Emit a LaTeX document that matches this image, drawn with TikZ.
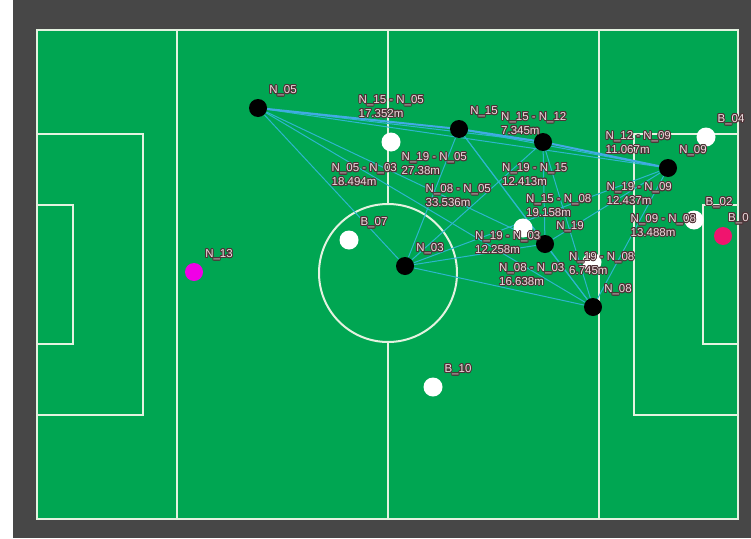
\documentclass[tikz,border=0pt]{standalone}
\usepackage{fontspec}
\setmainfont{Liberation Sans}
\usepackage[copies]{contour}
\contourlength{0.9pt}
\usetikzlibrary{calc}
\pgfdeclarelayer{back}
\pgfsetlayers{back,main}
\definecolor{bg}{HTML}{474747}
\definecolor{grass}{RGB}{0,166,82}
\definecolor{chalk}{RGB}{228,242,224}
\definecolor{edgec}{RGB}{45,182,205}
\definecolor{pathc}{RGB}{66,170,228}
\definecolor{labfill}{RGB}{236,220,222}
\definecolor{labline}{RGB}{80,50,55}
\definecolor{pinkb}{RGB}{240,20,110}
\definecolor{magn}{RGB}{240,0,230}
\newcommand\us{\textunderscore}
\newcommand\elab[5]{\node[lab] (#1) at ($(#2)!0.5!(#3)$) {\contour{labline}{#4}\\\contour{labline}{#5}};}
\newcommand\nlab[3]{\node[nlab] (#1) at ([shift={(25,-17)}]#2) {\contour{labline}{#3}};}
\tikzset{
  lab/.style={font=\fontsize{11.5}{14}\selectfont, text=labfill, inner sep=0pt, align=left, anchor=south west},
  nlab/.style={font=\fontsize{11.5}{13}\selectfont, text=labfill, inner sep=0pt},
  blk/.style={circle, fill=black, minimum size=18pt, inner sep=0pt},
  wht/.style={circle, fill=white, minimum size=19pt, inner sep=0pt},
  pnk/.style={circle, fill=pinkb, minimum size=18pt, inner sep=0pt},
  mag/.style={circle, fill=magn, minimum size=18pt, inner sep=0pt},
  fieldline/.style={draw=chalk, line width=2pt},
  edgeline/.style={draw=edgec, line width=1pt},
  pathline/.style={draw=pathc, line width=2pt}
}
\begin{document}
\begin{tikzpicture}[x=1pt,y=-1pt]
\useasboundingbox (0,0) rectangle (751,538);
% dots
\node[wht] (w1) at (391,142) {};
\node[wht] (w2) at (523,228) {};
\node[wht] (w3) at (592,262) {};
\node[wht] (b04) at (706,137) {};
\node[wht] (b02) at (694,220) {};
\node[pnk] (b0x) at (723,236) {};
\node[wht] (b07) at (349,240) {};
\node[wht] (b10) at (433,387) {};
\node[mag] (n13) at (194,272) {};
\node[blk] (n05) at (258,108) {};
\node[blk] (n15) at (459,129) {};
\node[blk] (n12) at (543,142) {};
\node[blk] (n09) at (668,168) {};
\node[blk] (n03) at (405,266) {};
\node[blk] (n19) at (545,244) {};
\node[blk] (n08) at (593,307) {};
\begin{pgfonlayer}{back}
\fill[white] (0,0) rectangle (751,538);
\fill[bg] (13,0) rectangle (751,538);
\path[fill=grass,fieldline] (37,30) rectangle (738,519);
\draw[fieldline] (177,30) -- (177,519);
\draw[fieldline] (599,30) -- (599,519);
\draw[fieldline] (388,30) -- (388,204);
\draw[fieldline] (388,342) -- (388,519);
\draw[fieldline] (388,273) circle[radius=69];
\draw[fieldline] (37,134) -- (143,134) -- (143,415) -- (37,415);
\draw[fieldline] (37,205) -- (73,205) -- (73,344) -- (37,344);
\draw[fieldline] (738,134) -- (634,134) -- (634,415) -- (738,415);
\draw[fieldline] (738,205) -- (703,205) -- (703,344) -- (738,344);
\foreach \a/\b in {n05/n12,n05/n09,n05/n03,n05/n19,n05/n08,
                   n15/n09,n15/n03,n15/n19,n15/n08,
                   n12/n03,n12/n19,n12/n08,
                   n09/n03,n09/n19,n09/n08,
                   n03/n19,n03/n08,n19/n08}
  \draw[edgeline] (\a) -- (\b);
\draw[pathline] (n05) -- (n15);
\draw[pathline] (n15) -- (n12);
\draw[pathline] (n12) -- (n09);
\end{pgfonlayer}
% node labels
\nlab{l05}{n05}{N\us05}
\nlab{l15}{n15}{N\us15}
\nlab{l09}{n09}{N\us09}
\nlab{l03}{n03}{N\us03}
\nlab{l19}{n19}{N\us19}
\nlab{l08}{n08}{N\us08}
\nlab{l13}{n13}{N\us13}
\nlab{lb04}{b04}{B\us04}
\nlab{lb02}{b02}{B\us02}
\nlab{lb07}{b07}{B\us07}
\nlab{lb10}{b10}{B\us10}
\node[nlab,anchor=west] (lb0x) at ([shift={(5,-17)}]b0x) {\contour{labline}{B\us0}};
% edge labels
\elab{e1505}{n15}{n05}{N\us15 - N\us05}{17.352m}
\elab{e1512}{n15}{n12}{N\us15 - N\us12}{7.345m}
\elab{e1209}{n12}{n09}{N\us12 - N\us09}{11.067m}
\elab{e1905}{n19}{n05}{N\us19 - N\us05}{27.38m}
\elab{e0503}{n05}{n03}{N\us05 - N\us03}{18.494m}
\elab{e0805}{n08}{n05}{N\us08 - N\us05}{33.536m}
\elab{e1915}{n19}{n15}{N\us19 - N\us15}{12.413m}
\elab{e1508}{n15}{n08}{N\us15 - N\us08}{19.158m}
\elab{e1909}{n19}{n09}{N\us19 - N\us09}{12.437m}
\elab{e0908}{n09}{n08}{N\us09 - N\us08}{13.488m}
\elab{e1903}{n19}{n03}{N\us19 - N\us03}{12.258m}
\elab{e0803}{n08}{n03}{N\us08 - N\us03}{16.638m}
\elab{e1908}{n19}{n08}{N\us19 - N\us08}{6.745m}
\end{tikzpicture}
\end{document}
